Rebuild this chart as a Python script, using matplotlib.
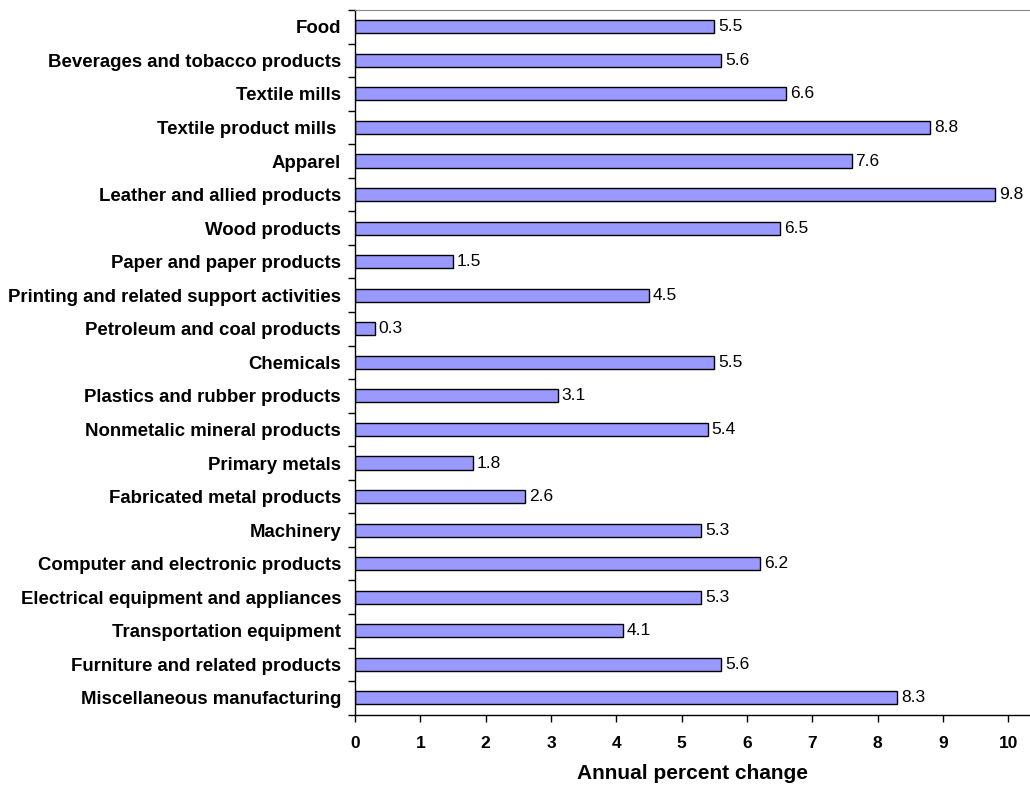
import numpy as np
import matplotlib
matplotlib.use('Agg')
import matplotlib.pyplot as plt
from matplotlib.ticker import FixedLocator

plt.rcParams['font.family'] = ['Liberation Sans', 'DejaVu Sans']

categories = ['Food', 'Beverages and tobacco products', 'Textile mills', 'Textile product mills ',
              'Apparel', 'Leather and allied products', 'Wood products', 'Paper and paper products',
              'Printing and related support activities', 'Petroleum and coal products', 'Chemicals',
              'Plastics and rubber products', 'Nonmetalic mineral products', 'Primary metals',
              'Fabricated metal products', 'Machinery', 'Computer and electronic products',
              'Electrical equipment and appliances', 'Transportation equipment',
              'Furniture and related products', 'Miscellaneous manufacturing']
values = [5.5, 5.6, 6.6, 8.8, 7.6, 9.8, 6.5, 1.5, 4.5, 0.3, 5.5, 3.1, 5.4, 1.8, 2.6,
          5.3, 6.2, 5.3, 4.1, 5.6, 8.3]
xticks = list(range(0, 11))

fig = plt.figure(figsize=(10.3, 7.86), dpi=100)
ax = fig.add_axes([355 / 1030, 1 - 714.7 / 786, 1 - 355 / 1030, (714.7 - 10) / 786])

n = len(categories)
y = np.arange(n)
ax.barh(y, values, height=0.39, color='#9999FF', edgecolor='black', linewidth=1.0)
for yi, v in zip(y, values):
    ax.text(v + 0.06, yi, f'{v:.1f}', va='center', ha='left', fontsize=12.5)

ax.set_ylim(n - 0.5, -0.5)
ax.set_xlim(0, 10.33)

ax.set_yticks(y)
ax.set_yticklabels(categories, fontsize=13.4, fontweight='bold')
ax.tick_params(axis='y', which='major', length=0, pad=10)
ax.yaxis.set_minor_locator(FixedLocator(np.arange(-0.5, n, 1.0)))
ax.tick_params(axis='y', which='minor', length=5, width=1, direction='out')

ax.set_xticks(xticks)
ax.set_xticklabels([str(t) for t in xticks], fontsize=12.5, fontweight='bold')
ax.tick_params(axis='x', length=5, width=1, direction='out', pad=10.5)
ax.set_xlabel('Annual percent change', fontsize=15, fontweight='bold', labelpad=9.5)

ax.spines['right'].set_visible(False)
ax.spines['top'].set_color('#888888')
ax.spines['left'].set_linewidth(1)
ax.spines['bottom'].set_linewidth(1)

fig.savefig('out.png', dpi=100)
